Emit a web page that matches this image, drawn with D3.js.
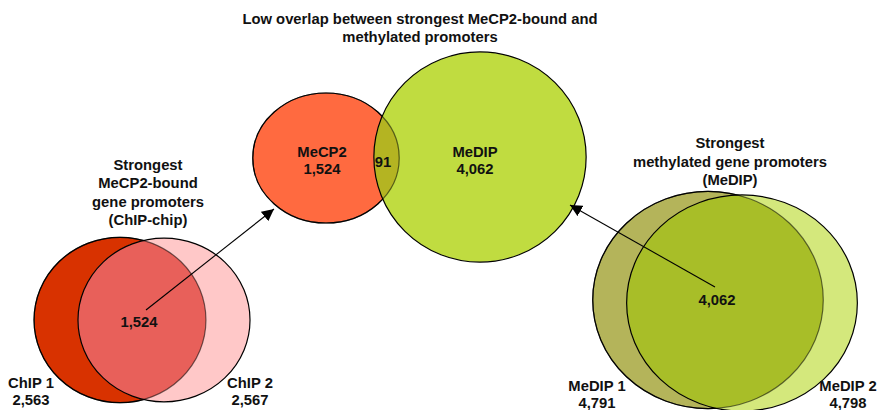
<!DOCTYPE html>
<html>
<head>
<meta charset="utf-8">
<script src="https://cdn.jsdelivr.net/npm/d3@7"></script>
<style>
  body { margin: 0; background: #fff; }
  svg text { font-family: "Liberation Sans", Arial, sans-serif; font-weight: bold; font-size: 14.8px; fill: #111; }
</style>
</head>
<body>
<svg id="chart" width="881" height="410"></svg>
<script>
// set names and counts
var setNames = ["ChIP 1", "ChIP 2", "MeCP2", "MeDIP", "MeDIP 1", "MeDIP 2"];
var setCounts = [2563, 2567, 1524, 4062, 4791, 4798];
// pairwise overlaps and their counts
var overlapPairs = [["ChIP 1", "ChIP 2"], ["MeCP2", "MeDIP"], ["MeDIP 1", "MeDIP 2"]];
var overlapCounts = [1524, 91, 4062];
var titleLines = ["Low overlap between strongest MeCP2-bound and", "methylated promoters"];
var leftCaption = ["Strongest", "MeCP2-bound", "gene promoters", "(ChIP-chip)"];
var rightCaption = ["Strongest", "methylated gene promoters", "(MeDIP)"];

// layout (centres in px, stretch factors on the sqrt radius)
var layout = {
	"ChIP 1":  {cx: 120, cy: 320, sx: 1.05, sy: 1.01, fill: "#d83200"},
	"ChIP 2":  {cx: 164, cy: 320, sx: 1.05, sy: 1.00, fill: "#ffc8c8"},
	"MeCP2":   {cx: 326, cy: 158, sx: 1.16, sy: 1.03, fill: "#ff6a40"},
	"MeDIP":   {cx: 480, cy: 157, sx: 1.03, sy: 1.02, fill: "#c0dc40"},
	"MeDIP 1": {cx: 708, cy: 300, sx: 1.03, sy: 0.97, fill: "#b4b45a"},
	"MeDIP 2": {cx: 742, cy: 303, sx: 1.03, sy: 0.965, fill: "#d4e87c"}
};
var overlapFills = ["#e8605a", "#b4b422", "#a8be28"];

var svg = d3.select("#chart");
var defs = svg.append("defs");

// circle area proportional to count
var rScale = d3.scaleSqrt().domain([0, d3.max(setCounts)]).range([0, 112]);

var sets = setNames.map(function(n, i) {
	var l = layout[n];
	var r = rScale(setCounts[i]);
	return {name: n, count: setCounts[i], cx: l.cx, cy: l.cy, rx: r * l.sx, ry: r * l.sy, fill: l.fill};
});
var byName = {};
sets.forEach(function(s) { byName[s.name] = s; });

// arrow marker
defs.append("marker")
	.attr("id", "arrow")
	.attr("viewBox", "0 0 10 10")
	.attr("refX", 10).attr("refY", 5)
	.attr("markerWidth", 12).attr("markerHeight", 12)
	.attr("markerUnits", "userSpaceOnUse")
	.attr("orient", "auto")
	.append("path")
	.attr("d", "M0,0 L10,5 L0,10 Z")
	.attr("fill", "#000");

// clip paths for each set
sets.forEach(function(s, i) {
	defs.append("clipPath").attr("id", "clip" + i)
		.append("ellipse")
		.attr("cx", s.cx).attr("cy", s.cy).attr("rx", s.rx).attr("ry", s.ry);
});

function ellipse(g, s) {
	return g.append("ellipse")
		.attr("cx", s.cx).attr("cy", s.cy).attr("rx", s.rx).attr("ry", s.ry);
}

overlapPairs.forEach(function(p, i) {
	var a = byName[p[0]], b = byName[p[1]];
	var g = svg.append("g");
	ellipse(g, a).attr("fill", a.fill);
	ellipse(g, b).attr("fill", b.fill);
	// overlap region: b clipped to a
	ellipse(g.append("g").attr("clip-path", "url(#clip" + setNames.indexOf(a.name) + ")"), b)
		.attr("fill", overlapFills[i]);
	// a's arc inside b is faint, outside b solid
	ellipse(g, a).attr("fill", "none").attr("stroke", "#000").attr("stroke-opacity", 0.55).attr("stroke-width", 1.2);
	ellipse(g, b).attr("fill", "none").attr("stroke", "#000").attr("stroke-width", 1.2);
	var mask = defs.append("mask").attr("id", "mOut" + i);
	mask.append("rect").attr("width", 881).attr("height", 410).attr("fill", "#fff");
	ellipse(mask, b).attr("fill", "#000");
	ellipse(g.append("g").attr("mask", "url(#mOut" + i + ")"), a)
		.attr("fill", "none").attr("stroke", "#000").attr("stroke-width", 1.2);
});

// arrows from outer overlaps to the middle diagram
var arrows = [
	{x1: 146, y1: 310, x2: 274, y2: 209},
	{x1: 715, y1: 287, x2: 570, y2: 205}
];
svg.selectAll(".arrow").data(arrows).enter().append("line")
	.attr("class", "arrow")
	.attr("x1", function(d) { return d.x1; }).attr("y1", function(d) { return d.y1; })
	.attr("x2", function(d) { return d.x2; }).attr("y2", function(d) { return d.y2; })
	.attr("stroke", "#000").attr("stroke-width", 1.1)
	.attr("marker-end", "url(#arrow)");

var fmt = d3.format(",");

function lines(arr, x, y0, dy) {
	var t = svg.append("text").attr("text-anchor", "middle");
	arr.forEach(function(l, i) {
		t.append("tspan").attr("x", x).attr("y", y0 + i * dy).text(l);
	});
	return t;
}

lines(titleLines, 420, 24, 18);
lines(leftCaption, 148, 170, 18.3);
lines(rightCaption, 730, 148, 18.5);

// set labels
var labelPos = {
	"ChIP 1": [31, 388], "ChIP 2": [250, 388],
	"MeCP2": [322, 157], "MeDIP": [475, 157],
	"MeDIP 1": [597, 391], "MeDIP 2": [848, 391]
};
sets.forEach(function(s) {
	var p = labelPos[s.name];
	lines([s.name, fmt(s.count)], p[0], p[1], 17);
});

// overlap counts
var overlapPos = [[139, 327], [383, 167], [717, 305]];
overlapCounts.forEach(function(c, i) {
	svg.append("text").attr("text-anchor", "middle")
		.attr("x", overlapPos[i][0]).attr("y", overlapPos[i][1])
		.text(fmt(c));
});
</script>
</body>
</html>
